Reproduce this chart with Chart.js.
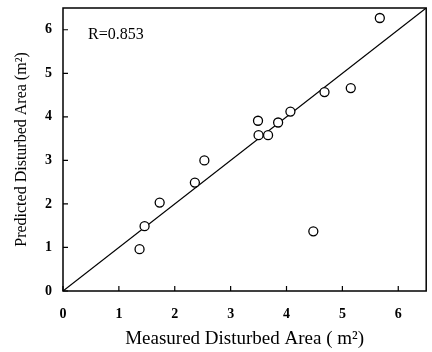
<!DOCTYPE html>
<html>
<head>
<meta charset="utf-8">
<script src="https://cdn.jsdelivr.net/npm/chart.js@4/dist/chart.umd.min.js"></script>
<style>
  html, body { margin: 0; padding: 0; background: #fff; }
</style>
</head>
<body>
<canvas id="c" width="432" height="352"></canvas>
<script>
// measured vs predicted disturbed area (m2)
const measured  = [1.37, 1.46, 1.73, 2.36, 2.53, 3.49, 3.50, 3.67, 3.85, 4.07, 4.68, 5.15, 5.67, 4.48];
const predicted = [0.96, 1.49, 2.03, 2.49, 3.00, 3.91, 3.58, 3.58, 3.87, 4.12, 4.57, 4.66, 6.27, 1.37];
// 1:1 line
const lineX = [0, 6.5];
const lineY = [0, 6.5];
const ticks = [0, 1, 2, 3, 4, 5, 6];
const rLabel = 'R=0.853';

const serif = '"Liberation Serif", "Times New Roman", serif';

const frame = {
  id: 'frame',
  afterDraw(chart) {
    const { ctx, chartArea: a, scales } = chart;
    ctx.save();
    ctx.strokeStyle = '#000';
    ctx.lineWidth = 1.5;
    ctx.strokeRect(a.left, a.top, a.right - a.left, a.bottom - a.top);
    // inward tick marks
    ctx.lineWidth = 1.2;
    ctx.beginPath();
    ticks.forEach(t => {
      const px = scales.x.getPixelForValue(t);
      ctx.moveTo(px, a.bottom); ctx.lineTo(px, a.bottom - 5);
      const py = scales.y.getPixelForValue(t);
      ctx.moveTo(a.left, py); ctx.lineTo(a.left + 5, py);
    });
    ctx.stroke();
    ctx.fillStyle = '#000';
    ctx.font = '16px ' + serif;
    ctx.textBaseline = 'middle';
    ctx.fillText(rLabel, a.left + 25, a.top + 27);
    ctx.restore();
  }
};

new Chart(document.getElementById('c'), {
  type: 'scatter',
  data: {
    datasets: [{
      data: measured.map((x, i) => ({ x: x, y: predicted[i] })),
      pointRadius: 4.5,
      pointBackgroundColor: '#fff',
      pointBorderColor: '#000',
      pointBorderWidth: 1.3
    }, {
      type: 'line',
      data: lineX.map((x, i) => ({ x: x, y: lineY[i] })),
      borderColor: '#000',
      borderWidth: 1.2,
      pointRadius: 0,
      fill: false
    }]
  },
  options: {
    responsive: false,
    animation: false,
    layout: { padding: { left: 0, right: 3, top: 8, bottom: 0 } },
    plugins: { legend: { display: false }, tooltip: { enabled: false } },
    scales: {
      x: {
        type: 'linear', min: 0, max: 6.5,
        afterBuildTicks: s => { s.ticks = ticks.map(v => ({ value: v })); },
        afterFit: s => { s.height = 61; s.paddingLeft = 0; s.paddingRight = 0; },
        grid: { display: false },
        border: { display: false },
        ticks: { color: '#000', padding: 7, font: { family: serif, size: 14, weight: 'bold' } },
        title: { display: true, text: 'Measured Disturbed Area ( m²)', color: '#000',
                 font: { family: serif, size: 19 }, padding: { top: 0, bottom: 2 } }
      },
      y: {
        type: 'linear', min: 0, max: 6.5,
        afterBuildTicks: s => { s.ticks = ticks.map(v => ({ value: v })); },
        afterFit: s => { s.width = 63; s.paddingTop = 0; s.paddingBottom = 0; },
        grid: { display: false },
        border: { display: false },
        ticks: { color: '#000', padding: 3, font: { family: serif, size: 14, weight: 'bold' } },
        title: { display: true, text: 'Predicted Disturbed Area (m²)', color: '#000',
                 font: { family: serif, size: 16 }, padding: { top: 12, bottom: 0 } }
      }
    }
  },
  plugins: [frame]
});
</script>
</body>
</html>
